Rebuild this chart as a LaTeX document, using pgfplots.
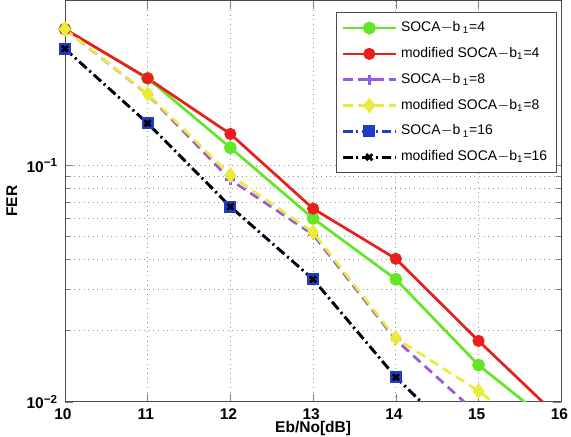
\documentclass[border=0pt]{standalone}
\usepackage{fontspec}
\setmainfont{Liberation Sans}
\usepackage{pgfplots}
\pgfplotsset{compat=1.18}
\definecolor{cgreen}{RGB}{100,230,40}
\definecolor{cred}{RGB}{235,30,30}
\definecolor{cpurple}{RGB}{150,90,225}
\definecolor{cyellow}{RGB}{235,235,60}
\definecolor{cblue}{RGB}{30,60,200}
\begin{document}
\begin{tikzpicture}[trim right={([xshift=5pt]current axis.south east)}]
\begin{axis}[
  scale only axis,
  width=256pt, height=207pt,
  ymode=log,
  xmin=10, xmax=16, ymin=0.01, ymax=0.5,
  xtick={10,11,...,16},
  ytick={0.01,0.1},
  yticklabels={10\textsuperscript{−2},10\textsuperscript{−1}},
  /pgf/number format/assume math mode=true,
  tick align=inside,
  tick label style={font=\fontsize{8}{9}\selectfont\bfseries},
  xticklabel style={xshift=-1pt},
  label style={font=\fontsize{8}{9}\selectfont\bfseries},
  xlabel={Eb/No[dB]},
  ylabel={FER},
  xlabel style={yshift=3pt, inner sep=0.3pt},
  ylabel style={yshift=-2pt},
  grid=both,
  major grid style={dotted, gray!80},
  minor grid style={dotted, gray!80},
  axis line style={gray!60!black},
  legend cell align=left,
  legend style={at={(0.99,0.97)}, anchor=north east, font=\fontsize{7.2}{9}\selectfont,
    draw=gray!60!black, row sep=2.6pt, inner sep=2.5pt},
  legend image code/.code={
    \draw[mark repeat=2,mark phase=2] plot coordinates {(0cm,0cm)(0.48cm,0cm)(0.96cm,0cm)};},
  every axis plot/.append style={line width=1.4pt},
]
\addplot[cgreen, mark=*, mark size=2.6pt, mark options={solid, fill=cgreen}] coordinates {
  (10,0.378)(11,0.234)(12,0.119)(13,0.0597)(14,0.033)(15,0.0143)(16,0.0075)
};
\addlegendentry{SOCA$-$b\,\textsubscript{1}=4}
\addplot[cred, mark=*, mark size=2.4pt, mark options={solid, fill=cred}] coordinates {
  (10,0.378)(11,0.234)(12,0.136)(13,0.0657)(14,0.0403)(15,0.0181)(16,0.0084)
};
\addlegendentry{modified SOCA$-$b\textsubscript{1}=4}
\addplot[cpurple, dash pattern=on 5pt off 3pt, mark=+, mark size=2.6pt, mark options={solid}] coordinates {
  (10,0.378)(11,0.2)(12,0.087)(13,0.051)(14,0.0183)(15,0.0088)
};
\addlegendentry{SOCA$-$b\,\textsubscript{1}=8}
\addplot[cyellow, dash pattern=on 5pt off 3pt, mark=diamond*, mark size=3pt, mark options={solid, fill=cyellow}] coordinates {
  (10,0.378)(11,0.201)(12,0.091)(13,0.0522)(14,0.0186)(15,0.0111)(16,0.006)
};
\addlegendentry{modified SOCA$-$b\textsubscript{1}=8}
\addplot[cblue, dash pattern=on 5pt off 2pt on 1pt off 2pt, mark=square*, mark size=2.4pt, mark options={solid, fill=cblue}] coordinates {
  (10,0.312)(11,0.151)(12,0.067)(13,0.033)(14,0.0127)(15,0.0058)
};
\addlegendentry{SOCA$-$b\,\textsubscript{1}=16}
\addplot[black, dash pattern=on 5pt off 2pt on 1pt off 2pt, mark=x, mark size=2.2pt, mark options={solid}] coordinates {
  (10,0.312)(11,0.151)(12,0.067)(13,0.033)(14,0.0127)(15,0.0058)
};
\addlegendentry{modified SOCA$-$b\textsubscript{1}=16}
\end{axis}
\end{tikzpicture}
\end{document}
